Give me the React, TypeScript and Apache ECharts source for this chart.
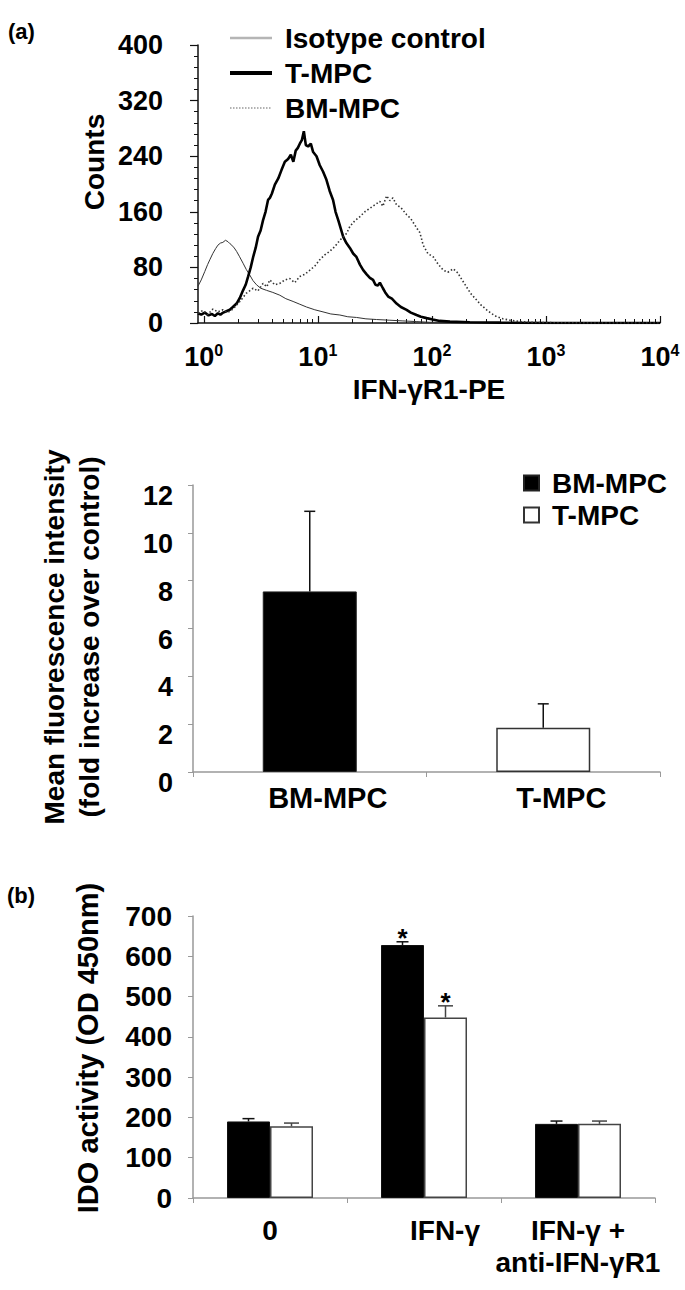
import React, { useEffect, useRef } from 'react';
import * as echarts from 'echarts';

const FONT = '"Liberation Sans", Arial, Helvetica, sans-serif';

// ---------------- Panel (a) top: flow cytometry histogram ----------------
const histXMajorTicks = [1, 10, 100, 1000, 10000];
const histXMinorTicks = [2, 3, 4, 5, 6, 7, 8, 9, 20, 30, 40, 50, 60, 70, 80, 90, 200, 300, 400, 500, 600, 700, 800, 900, 2000, 3000, 4000, 5000, 6000, 7000, 8000, 9000];
const histYMax = 400;
const histYStep = 80;

const isotypeX = [0.89, 0.95, 1.02, 1.08, 1.13, 1.2, 1.27, 1.33, 1.4, 1.47, 1.55, 1.63, 1.7, 1.76, 1.85, 1.94, 2.05, 2.21, 2.36, 2.53, 2.7, 2.9, 3.16, 3.55, 4.03, 4.64, 5.24, 6.07, 6.95, 7.96, 9.41, 11.1, 13.0, 15.6, 18.3, 21.8, 26.4, 32.7, 42.8, 55.7, 73.9, 96, 176, 395, 1080, 3000, 10000];
const isotypeY = [53, 62, 74, 84, 91, 100, 107, 112, 115, 116, 119, 117, 114, 112, 108, 103, 96, 86, 77, 69, 61, 55, 50, 47, 44, 40, 35, 31, 27, 23, 19, 16, 13, 11.5, 9, 8, 6, 5, 4, 3, 2, 1, 1, 0.5, 0, 0, 0];

const tmpcX = [0.89, 0.95, 1.02, 1.1, 1.18, 1.25, 1.33, 1.4, 1.48, 1.58, 1.69, 1.8, 1.94, 2.07, 2.21, 2.33, 2.45, 2.58, 2.71, 2.85, 2.99, 3.15, 3.31, 3.48, 3.66, 3.8, 3.95, 4.2, 4.5, 4.8, 5.14, 5.49, 5.8, 6.1, 6.4, 6.68, 6.95, 7.24, 7.54, 7.85, 8.22, 8.68, 9.1, 9.74, 10.4, 11.1, 11.9, 12.7, 13.6, 14.3, 15.1, 16.7, 17.8, 19.1, 20.4, 21.8, 23.4, 25.0, 26.8, 28.6, 30.5, 32.0, 33.6, 35.0, 37.2, 39.0, 41.4, 44.6, 49.0, 53.5, 60.0, 65.4, 73.4, 80.1, 89.9, 102, 117, 144, 215, 395, 1080, 3000, 10000];
const tmpcY = [14, 12, 15, 11, 13, 10, 14, 12, 15, 17, 19, 23, 28, 36, 47, 55, 67, 80, 95, 108, 124, 133, 148, 160, 177, 180, 186, 199, 208, 220, 232, 236, 242, 232, 248, 252, 258, 263, 276, 256, 254, 258, 246, 240, 227, 218, 206, 190, 177, 160, 148, 124, 115, 108, 100, 95, 84, 76, 70, 65, 62, 55, 54, 58, 50, 44, 38, 35, 28, 23, 19, 15, 11.5, 9, 7, 5, 3, 2, 1, 0.5, 0, 0, 0];

const bmmpcX = [0.89, 0.98, 1.08, 1.2, 1.33, 1.47, 1.62, 1.8, 2.07, 2.37, 2.71, 2.98, 3.31, 3.57, 3.79, 4.2, 4.64, 5.14, 5.68, 6.28, 6.95, 7.69, 8.51, 9.41, 10.4, 11.5, 12.7, 14.1, 15.6, 17.9, 19.1, 21.1, 23.4, 25.8, 28.6, 31.6, 35.0, 37.2, 40.1, 42.8, 45.5, 49.0, 53.5, 60.0, 65.4, 73.4, 78.5, 83.9, 92.2, 103, 113, 126, 138, 154, 169, 176, 201, 220, 247, 269, 302, 330, 370, 420, 483, 592, 724, 1080, 2980, 10000];
const bmmpcY = [14, 18, 12, 20, 16, 19, 15, 20, 31, 43, 50, 46, 57, 52, 62, 55, 57, 62, 64, 58, 67, 70, 76, 82, 91, 98, 103, 110, 119, 129, 139, 147, 153, 160, 165, 170, 175, 168, 183, 176, 180, 170, 166, 156, 150, 137, 130, 112, 100, 95, 85, 76, 73, 78, 72, 67, 52, 42, 33, 26, 19, 14, 9, 6, 4, 2, 1, 0.5, 0, 0];

// ---------------- Panel (a) bottom: mean fluorescence intensity ----------------
const mfiCategories = ['BM-MPC', 'T-MPC'];
const mfiValues = [7.55, 1.85];
const mfiErrors = [3.35, 1.0];

// ---------------- Panel (b): IDO activity ----------------
const idoCategories = ['0', 'IFN-γ', 'IFN-γ +\nanti-IFN-γR1'];
const idoBM = [190, 628, 184];
const idoBMErr = [7, 8, 7];
const idoBMStar = [0, 1, 0];
const idoT = [178, 448, 184];
const idoTErr = [8, 29, 7];
const idoTStar = [0, 1, 0];

const pairs = (xs: number[], ys: number[]) => xs.map((x, i) => [x, ys[i]]);

const bold = (size: number) => ({ fontSize: size, fontWeight: 'bold' as const, fontFamily: FONT, color: '#000' });

const rotatedTitle = (text: string, x: number, y: number, size: number) => ({
  type: 'text',
  x,
  y,
  rotation: Math.PI / 2,
  style: { text, fontSize: size, fontWeight: 'bold', fontFamily: FONT, fill: '#000', align: 'center', verticalAlign: 'middle' },
});

const makeErrorBar = (offset: number, color: string, capHalf: number) => (params: any, api: any) => {
  const c = api.value(0);
  const v = api.value(1);
  const e = api.value(2);
  const star = api.value(3);
  const p0 = api.coord([c, v]);
  const p1 = api.coord([c, v + e]);
  const x = p0[0] + offset;
  const children: any[] = [
    { type: 'line', shape: { x1: x, y1: p0[1], x2: x, y2: p1[1] }, style: { stroke: color, lineWidth: 1.5 } },
    { type: 'line', shape: { x1: x - capHalf, y1: p1[1], x2: x + capHalf, y2: p1[1] }, style: { stroke: color, lineWidth: 1.5 } },
  ];
  if (star) {
    children.push({
      type: 'text',
      x,
      y: p1[1] - 4,
      style: { text: '*', fontSize: 26, fontWeight: 'bold', fontFamily: FONT, fill: '#000', align: 'center', verticalAlign: 'middle' },
    });
  }
  return { type: 'group', children };
};

const optionA: any = {
  animation: false,
  graphic: [
    { type: 'text', left: 8, top: 20, style: { text: '(a)', fontSize: 22, fontWeight: 'bold', fontFamily: FONT, fill: '#000' } },
    rotatedTitle('Counts', 94, 162, 28),
  ],
  legend: {
    orient: 'vertical',
    left: 223,
    top: 18,
    itemWidth: 42,
    itemHeight: 14,
    itemGap: 5,
    selectedMode: false,
    itemStyle: { opacity: 0 },
    textStyle: { ...bold(28), lineHeight: 30, padding: [0, 0, 0, 8] },
    data: [
      { name: 'Isotype control', lineStyle: { color: '#b5b5b5', width: 2.5, type: 'solid' } },
      { name: 'T-MPC', lineStyle: { color: '#000', width: 4, type: 'solid' } },
      { name: 'BM-MPC', lineStyle: { color: '#999', width: 1.5, type: 'dotted' } },
    ],
  },
  grid: { left: 198, top: 45, width: 462, height: 278 },
  xAxis: [
    {
      type: 'log',
      logBase: 10,
      min: 0.89,
      max: 10000,
      name: 'IFN-γR1-PE',
      nameLocation: 'middle',
      nameGap: 50,
      nameTextStyle: bold(28),
      axisLine: { show: true, lineStyle: { color: '#111', width: 1.5 } },
      axisTick: { show: true, inside: true, length: 7, customValues: histXMajorTicks, lineStyle: { color: '#111', width: 1.2 } },
      minorTick: { show: false },
      splitLine: { show: false },
      axisLabel: {
        customValues: histXMajorTicks,
        margin: 19,
        formatter: (v: number) => `{b|10}{s|${Math.round(Math.log10(v))}}`,
        rich: {
          b: { ...bold(27), lineHeight: 30 },
          s: { ...bold(16), lineHeight: 12, verticalAlign: 'top' },
        },
      },
    },
    {
      type: 'log',
      logBase: 10,
      min: 0.89,
      max: 10000,
      gridIndex: 0,
      position: 'bottom',
      axisLine: { show: false },
      axisTick: { show: true, inside: true, length: 4, customValues: histXMinorTicks, lineStyle: { color: '#111', width: 1 } },
      axisLabel: { show: false },
      splitLine: { show: false },
    },
  ],
  yAxis: {
    type: 'value',
    min: 0,
    max: histYMax,
    interval: histYStep,
    axisLine: { show: true, lineStyle: { color: '#111', width: 1.5 } },
    axisTick: { show: true, length: 8, lineStyle: { color: '#111', width: 1.2 } },
    minorTick: { show: true, splitNumber: 5, length: 4, lineStyle: { color: '#111', width: 1 } },
    splitLine: { show: false },
    axisLabel: { ...bold(27), margin: 35 },
  },
  series: [
    {
      type: 'line',
      name: 'Isotype control',
      data: pairs(isotypeX, isotypeY),
      symbol: 'none',
      showSymbol: false,
      lineStyle: { color: '#333', width: 1 },
      itemStyle: { color: '#333' },
      z: 2,
    },
    {
      type: 'line',
      name: 'T-MPC',
      data: pairs(tmpcX, tmpcY),
      symbol: 'none',
      showSymbol: false,
      lineStyle: { color: '#000', width: 2.6 },
      itemStyle: { color: '#000' },
      z: 3,
    },
    {
      type: 'line',
      name: 'BM-MPC',
      data: pairs(bmmpcX, bmmpcY),
      symbol: 'none',
      showSymbol: false,
      lineStyle: { color: '#333', width: 1.6, type: [1.5, 2.2] },
      itemStyle: { color: '#333' },
      z: 4,
    },
  ],
};

const optionB: any = {
  animation: false,
  graphic: [
    rotatedTitle('Mean fluorescence intensity', 54, 217, 28),
    rotatedTitle('(fold increase over control)', 89, 217, 28),
  ],
  legend: {
    orient: 'vertical',
    left: 518,
    top: 44,
    itemWidth: 15,
    itemHeight: 15,
    itemGap: 4,
    icon: 'rect',
    selectedMode: false,
    textStyle: { ...bold(28), lineHeight: 28, padding: [0, 0, 0, 8] },
    data: ['BM-MPC', 'T-MPC'],
  },
  grid: { left: 193, top: 65, width: 467, height: 287 },
  xAxis: {
    type: 'category',
    data: mfiCategories,
    axisLine: { show: true, lineStyle: { color: '#999', width: 1.5 } },
    axisTick: { show: true, alignWithLabel: false, length: 5, lineStyle: { color: '#999' } },
    axisLabel: {
      margin: 11,
      interval: 0,
      formatter: (v: string) => `{c|${v}}`,
      rich: { c: { ...bold(29), padding: [0, 0, 0, 36] } },
    },
  },
  yAxis: {
    type: 'value',
    min: 0,
    max: 12,
    interval: 2,
    axisLine: { show: true, lineStyle: { color: '#999', width: 1.5 } },
    axisTick: { show: true, length: 5, lineStyle: { color: '#999' } },
    splitLine: { show: false },
    axisLabel: { ...bold(27), margin: 20, verticalAlign: 'top', lineHeight: 22 },
  },
  series: [
    {
      type: 'bar',
      name: 'BM-MPC',
      data: [mfiValues[0], '-'],
      barWidth: 94,
      barGap: '-100%',
      itemStyle: { color: '#000', borderColor: '#222', borderWidth: 1 },
    },
    {
      type: 'bar',
      name: 'T-MPC',
      data: ['-', mfiValues[1]],
      barWidth: 94,
      barGap: '-100%',
      itemStyle: { color: '#fff', borderColor: '#333', borderWidth: 1.5 },
    },
    {
      type: 'custom',
      name: 'error',
      silent: true,
      z: 5,
      renderItem: makeErrorBar(0, '#111', 5.5),
      data: mfiValues.map((v, i) => [i, v, mfiErrors[i], 0]),
    },
  ],
};

const optionC: any = {
  animation: false,
  graphic: [
    { type: 'text', left: 7, top: 34, style: { text: '(b)', fontSize: 22, fontWeight: 'bold', fontFamily: FONT, fill: '#000' } },
    rotatedTitle('IDO activity (OD 450nm)', 88, 198, 29),
  ],
  grid: { left: 193, top: 66, width: 462, height: 282 },
  xAxis: {
    type: 'category',
    data: idoCategories,
    axisLine: { show: true, lineStyle: { color: '#999', width: 1.5 } },
    axisTick: { show: true, alignWithLabel: false, length: 5, lineStyle: { color: '#999' } },
    axisLabel: {
      ...bold(28),
      margin: 16,
      interval: 0,
      lineHeight: 32,
      formatter: (v: string) => (v === 'IFN-γ' ? `{s|${v}}` : v),
      rich: { s: { ...bold(28), lineHeight: 32, padding: [0, 0, 0, 42] } },
    },
  },
  yAxis: {
    type: 'value',
    min: 0,
    max: 700,
    interval: 100,
    axisLine: { show: true, lineStyle: { color: '#999', width: 1.5 } },
    axisTick: { show: true, length: 5, lineStyle: { color: '#999' } },
    splitLine: { show: false },
    axisLabel: { ...bold(28), margin: 21 },
  },
  series: [
    {
      type: 'bar',
      name: 'BM-MPC',
      data: idoBM,
      barWidth: 43,
      barGap: '0%',
      itemStyle: { color: '#000', borderColor: '#111', borderWidth: 1 },
    },
    {
      type: 'bar',
      name: 'T-MPC',
      data: idoT,
      barWidth: 43,
      barGap: '0%',
      itemStyle: { color: '#fff', borderColor: '#444', borderWidth: 1.5 },
    },
    {
      type: 'custom',
      name: 'BM-MPC error',
      silent: true,
      z: 5,
      renderItem: makeErrorBar(-21.5, '#111', 6),
      data: idoBM.map((v, i) => [i, v, idoBMErr[i], idoBMStar[i]]),
    },
    {
      type: 'custom',
      name: 'T-MPC error',
      silent: true,
      z: 5,
      renderItem: makeErrorBar(21.5, '#444', 7.5),
      data: idoT.map((v, i) => [i, v, idoTErr[i], idoTStar[i]]),
    },
  ],
};

function ChartBox({ option, top, height }: { option: any; top: number; height: number }) {
  const ref = useRef<HTMLDivElement>(null);
  useEffect(() => {
    if (!ref.current) return;
    const chart = echarts.init(ref.current, null, { renderer: 'svg' });
    chart.setOption(option);
    return () => chart.dispose();
  }, [option]);
  return <div ref={ref} style={{ position: 'absolute', left: 0, top, width: 685, height }} />;
}

export default function App() {
  return (
    <div>
      <ChartBox option={optionA} top={0} height={420} />
      <ChartBox option={optionB} top={420} height={430} />
      <ChartBox option={optionC} top={850} height={440} />
    </div>
  );
}
